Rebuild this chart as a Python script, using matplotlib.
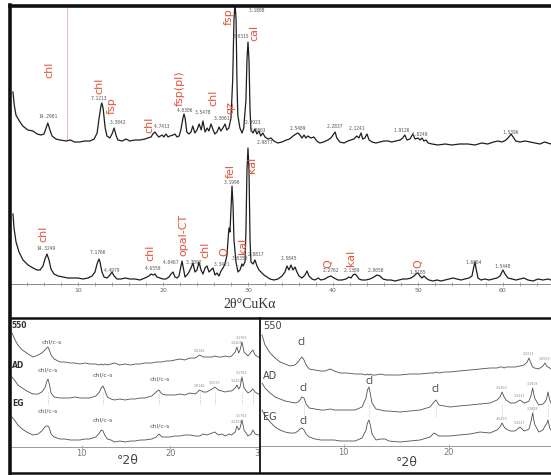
import numpy as np
import matplotlib.pyplot as plt
from matplotlib.ticker import MultipleLocator

# ---- top panel: bulk XRD patterns, 2theta (deg, CuKa) vs intensity (arb.)
up_tt = [2.35, 2.5, 2.7, 3.1, 3.5, 4.1, 4.7, 5.2, 5.65, 6.0,
         6.25, 6.45, 6.7, 6.95, 7.4, 7.9, 8.6, 9.1, 9.6, 10.2,
         10.8, 11.4, 11.9, 12.25, 12.45, 12.7, 12.8, 12.95, 13.2, 13.4,
         13.75, 14.0, 14.25, 14.5, 14.7, 15.2, 15.65, 16.1, 16.7, 17.3,
         17.9, 18.2, 18.6, 18.8, 19.05, 19.3, 19.5, 19.9, 20.1, 20.35,
         20.6, 20.8, 21.2, 21.4, 21.65, 21.9, 22.1, 22.35, 22.47, 22.6,
         22.8, 23.05, 23.3, 23.5, 23.75, 24.0, 24.25, 24.5, 24.7, 24.95,
         25.2, 25.4, 25.65, 25.9, 26.1, 26.35, 26.6, 26.8, 27.05, 27.3,
         27.5, 27.75, 28.0, 28.2, 28.35, 28.47, 28.6, 28.7, 28.8, 29.05,
         29.3, 29.5, 29.76, 29.88, 30.0, 30.12, 30.24, 30.35, 30.6, 30.8,
         31.05, 31.3, 31.5, 31.75, 32.0, 32.35, 32.7, 33.05, 33.5, 34.0,
         34.5, 34.9, 35.3, 35.65, 35.9, 36.1, 36.35, 36.6, 36.8, 37.05,
         37.4, 37.75, 38.1, 38.45, 38.9, 39.4, 39.75, 40.0, 40.25, 40.45,
         40.8, 41.3, 41.75, 42.1, 42.45, 42.8, 43.05, 43.3, 43.5, 43.75,
         44.0, 44.25, 44.6, 45.05, 45.5, 46.0, 46.5, 46.9, 47.4, 47.9,
         48.2, 48.45, 48.7, 49.05, 49.4, 49.65, 50.0, 50.24, 50.47, 50.7,
         50.94, 51.2, 51.65, 52.35, 53.2, 54.0, 54.9, 55.9, 56.7, 57.5,
         58.2, 58.9, 59.4, 59.9, 60.35, 60.7, 60.94, 61.2, 61.5, 62.0,
         62.6, 63.2, 63.8, 64.35, 64.9, 65.65]
up_int = [55, 42, 32, 26, 21, 17, 16, 13, 12, 13,
          19, 24, 17, 11, 8, 7, 6, 7, 5, 5,
          6, 6, 8, 14, 27, 41, 44, 39, 19, 11,
          9, 13, 19, 11, 7, 6, 8, 6, 7, 7,
          8, 9, 10, 13, 15, 12, 10, 12, 10, 13,
          10, 11, 12, 13, 10, 11, 17, 29, 33, 29,
          15, 13, 15, 21, 14, 17, 23, 17, 26, 15,
          19, 16, 23, 17, 13, 15, 20, 16, 19, 23,
          17, 19, 29, 67, 127, 144, 127, 67, 32, 19,
          14, 19, 47, 87, 105, 87, 37, 17, 14, 18,
          13, 16, 11, 14, 10, 8, 9, 6, 4, 5,
          7, 8, 11, 13, 14, 12, 9, 12, 9, 11,
          9, 10, 6, 4, 5, 7, 9, 12, 15, 9,
          5, 4, 6, 7, 8, 11, 9, 14, 8, 9,
          13, 7, 5, 4, 5, 6, 6, 5, 6, 7,
          9, 12, 7, 8, 13, 8, 9, 7, 9, 6,
          7, 4, 3, 2, 3, 2, 3, 3, 2, 4,
          3, 5, 6, 5, 7, 10, 13, 10, 6, 5,
          6, 5, 4, 3, 5, 3]

lo_tt = [2.35, 2.47, 2.71, 3.06, 3.53, 4.12, 4.71, 5.18, 5.53, 5.88,
         6.12, 6.35, 6.59, 6.82, 7.18, 7.65, 8.24, 8.82, 9.41, 10.0,
         10.59, 11.18, 11.65, 12.0, 12.24, 12.47, 12.59, 12.82, 13.06, 13.41,
         13.76, 14.0, 14.24, 14.59, 15.06, 15.53, 16.12, 16.71, 17.29, 17.88,
         18.35, 18.59, 18.82, 19.06, 19.29, 19.65, 20.0, 20.35, 20.71, 20.94,
         21.18, 21.41, 21.65, 21.88, 22.12, 22.24, 22.35, 22.59, 22.82, 23.06,
         23.29, 23.53, 23.76, 24.0, 24.24, 24.47, 24.71, 24.94, 25.18, 25.41,
         25.65, 25.88, 26.12, 26.35, 26.59, 26.82, 27.06, 27.29, 27.53, 27.65,
         27.76, 27.88, 28.0, 28.12, 28.24, 28.35, 28.59, 28.82, 29.06, 29.29,
         29.41, 29.65, 29.76, 29.88, 30.0, 30.12, 30.24, 30.35, 30.59, 30.82,
         31.06, 31.29, 31.53, 31.88, 32.24, 32.59, 33.06, 33.53, 34.0, 34.35,
         34.59, 34.82, 35.06, 35.29, 35.53, 35.76, 36.0, 36.35, 36.71, 36.94,
         37.18, 37.53, 37.88, 38.24, 38.59, 39.06, 39.41, 39.76, 40.12, 40.59,
         41.06, 41.53, 41.88, 42.12, 42.35, 42.59, 42.82, 43.06, 43.41, 43.88,
         44.35, 44.82, 45.18, 45.53, 45.88, 46.35, 46.82, 47.29, 47.76, 48.24,
         48.71, 49.18, 49.53, 49.76, 50.0, 50.24, 50.47, 50.71, 50.94, 51.29,
         51.76, 52.24, 52.71, 53.18, 53.65, 54.12, 54.59, 55.06, 55.53, 56.0,
         56.35, 56.59, 56.71, 56.82, 57.06, 57.41, 57.88, 58.35, 58.82, 59.29,
         59.65, 59.88, 60.0, 60.24, 60.59, 61.06, 61.53, 62.0, 62.47, 62.94,
         63.53, 64.12, 64.71, 65.29, 65.65]
lo_int = [70, 56, 42, 32, 24, 19, 16, 14, 14, 18,
          25, 30, 24, 15, 10, 8, 7, 6, 6, 6,
          5, 6, 8, 12, 20, 25, 22, 12, 7, 6,
          9, 12, 8, 5, 5, 6, 5, 5, 4, 6,
          8, 10, 9, 10, 7, 6, 5, 5, 7, 10,
          12, 7, 6, 8, 18, 23, 18, 7, 9, 12,
          16, 21, 12, 14, 22, 14, 10, 16, 18, 12,
          14, 16, 9, 11, 8, 13, 16, 20, 29, 44,
          56, 52, 74, 98, 79, 44, 22, 12, 14, 20,
          18, 22, 54, 114, 136, 114, 44, 22, 20, 24,
          18, 14, 12, 9, 7, 5, 4, 5, 8, 12,
          18, 14, 19, 14, 17, 12, 8, 6, 9, 13,
          8, 5, 4, 6, 4, 5, 7, 8, 6, 4,
          4, 5, 7, 6, 9, 10, 8, 5, 4, 4,
          5, 7, 9, 8, 5, 4, 4, 3, 4, 5,
          5, 6, 8, 10, 11, 8, 6, 8, 6, 4,
          3, 4, 3, 4, 5, 6, 5, 4, 5, 6,
          8, 18, 22, 16, 6, 4, 5, 4, 5, 6,
          8, 12, 14, 10, 6, 5, 4, 5, 6, 4,
          3, 5, 4, 5, 4]
up_shift = 137

top_minerals = [('chl', 6.6, 214), ('chl', 12.5, 198), ('fsp', 14.0, 178),
                ('chl', 18.35, 159), ('fsp(pl)', 22.0, 196), ('chl', 25.9, 186),
                ('qz', 27.9, 177), ('fsp', 27.75, 267), ('cal', 30.8, 251),
                ('chl', 5.9, 50), ('chl', 18.5, 31), ('opal-CT', 22.35, 49),
                ('chl', 24.95, 34), ('Q', 27.25, 32), ('fel', 28.0, 113),
                ('kal', 29.4, 38), ('kal', 30.5, 119), ('Q', 39.5, 20),
                ('kal', 42.1, 26), ('Q', 50.0, 20)]
top_d = [('14.2901', 6.47, 167), ('7.1213', 12.47, 186), ('3.3842', 14.7, 161),
         ('4.7413', 19.9, 157), ('4.0306', 22.6, 173), ('3.5478', 24.7, 171),
         ('3.3061', 26.9, 166), ('3.1808', 31.06, 273), ('3.0315', 29.2, 247),
         ('2.9923', 30.6, 161), ('2.8803', 31.2, 154), ('2.5489', 35.9, 156),
         ('2.2837', 40.2, 157), ('2.1241', 42.8, 156), ('1.9126', 48.1, 154),
         ('1.8249', 50.2, 149), ('1.5396', 60.9, 152), ('2.9877', 32.0, 141),
         ('14.3249', 6.24, 36), ('7.1766', 12.35, 31), ('4.4979', 14.0, 14),
         ('4.6550', 18.8, 16), ('4.0467', 21.0, 22), ('3.7092', 23.6, 22),
         ('3.3421', 26.9, 20), ('3.1990', 28.1, 101), ('3.0359', 29.06, 25),
         ('2.8817', 30.94, 30), ('2.5845', 34.8, 25), ('2.2762', 39.8, 14),
         ('2.1389', 42.2, 13), ('2.0058', 45.06, 14), ('1.8185', 50.0, 12),
         ('1.6864', 56.5, 22), ('1.5448', 60.0, 18)]

# ---- bottom left: oriented clay fraction (550, AD, EG)
bl_tt = [2.14, 2.5, 2.8, 3.3, 3.8, 4.5, 5.1, 5.5, 5.85, 6.05,
         6.2, 6.35, 6.55, 6.9, 7.55, 8.1, 8.7, 9.2, 9.8, 10.4,
         10.9, 11.6, 12.0, 12.2, 12.4, 12.6, 12.9, 13.3, 13.7, 14.3,
         14.9, 15.5, 16.0, 16.6, 17.1, 17.9, 18.4, 18.7, 19.05, 19.5,
         19.95, 20.5, 21.1, 21.6, 22.2, 22.8, 23.3, 23.7, 24.1, 24.7,
         25.0, 25.4, 25.8, 26.2, 26.6, 26.9, 27.3, 27.5, 27.7, 27.85,
         28.07, 28.3, 28.75, 29.1, 29.3, 29.55, 29.9, 30.1]
bl_550 = [32, 25, 20, 15, 12, 8, 10, 12, 15, 17,
          18, 15, 10, 6, 3, 3, 2, 2, 1, 2,
          1, 1, 0, 1, 0, 1, 0, 1, 2, 0,
          1, 0, 1, 1, 2, 2, 3, 3, 3, 4,
          4, 5, 6, 5, 7, 7, 10, 8, 8, 8,
          9, 8, 8, 9, 8, 9, 13, 18, 12, 15,
          23, 13, 9, 13, 15, 10, 8, 7]
bl_ad = [23, 19, 15, 12, 9, 6, 6, 8, 12, 18,
         21, 16, 7, 3, 2, 2, 2, 3, 2, 2,
         2, 4, 8, 12, 14, 10, 3, 1, 0, 1,
         0, 1, 1, 2, 2, 4, 8, 10, 6, 5,
         5, 5, 6, 5, 7, 6, 10, 8, 8, 11,
         13, 10, 9, 8, 9, 9, 12, 15, 11, 13,
         23, 12, 7, 9, 11, 8, 6, 6]
bl_eg = [25, 21, 17, 13, 10, 7, 8, 11, 15, 16,
         16, 14, 8, 5, 3, 3, 2, 2, 2, 3,
         3, 5, 9, 12, 11, 7, 3, 2, 0, 1,
         0, 1, 1, 2, 2, 3, 5, 8, 5, 5,
         5, 6, 6, 7, 7, 6, 6, 8, 7, 9,
         10, 7, 8, 6, 8, 7, 10, 16, 12, 14,
         22, 12, 6, 8, 12, 8, 7, 7]
bl_shift = [82, 47, 5]
bl_peaks = [6.2, 12.4, 18.7, 23.3, 25.0, 28.07, 29.3]

# ---- bottom right
br_tt = [2.19, 2.48, 2.96, 3.44, 3.91, 4.39, 4.87, 5.34, 5.63, 5.82,
         6.0, 6.2, 6.4, 6.7, 7.25, 7.8, 8.2, 8.7, 9.1, 9.64,
         10.3, 11.07, 11.74, 12.12, 12.25, 12.4, 12.55, 12.69, 13.07, 13.5,
         13.93, 14.3, 15.36, 16.3, 17.27, 18.23, 18.6, 18.8, 19.08, 19.6,
         20.13, 21.0, 22.04, 23.0, 23.95, 24.62, 24.9, 25.1, 25.3, 25.48,
         25.9, 26.34, 26.81, 27.2, 27.5, 27.67, 27.85, 28.02, 28.2, 28.6,
         29.0, 29.2, 29.35, 29.48, 29.65, 29.77]
br_550 = [40, 30, 22, 17, 13, 11, 9, 10, 13, 16,
          18, 15, 10, 6, 5, 4, 4, 6, 4, 2,
          2, 1, 1, 0, 1, 0, 1, 0, 0, 1,
          0, 0, 0, 1, 1, 2, 2, 3, 2, 3,
          3, 4, 5, 6, 7, 7, 8, 8, 7, 8,
          8, 8, 9, 10, 13, 17, 12, 8, 7, 6,
          9, 12, 9, 8, 7, 6]
br_ad = [29, 24, 19, 15, 13, 11, 10, 9, 10, 12,
         15, 14, 8, 4, 3, 2, 2, 3, 2, 2,
         2, 2, 5, 14, 22, 25, 17, 9, 3, 2,
         1, 1, 0, 1, 2, 5, 10, 12, 7, 6,
         5, 6, 7, 8, 9, 12, 15, 20, 15, 12,
         9, 9, 12, 9, 10, 11, 16, 24, 14, 7,
         8, 10, 13, 20, 12, 9]
br_eg = [32, 26, 20, 15, 12, 10, 9, 9, 11, 13,
         14, 12, 8, 5, 3, 2, 2, 2, 2, 1,
         1, 1, 4, 12, 19, 22, 16, 8, 2, 3,
         3, 1, 0, 1, 2, 5, 9, 8, 6, 6,
         6, 7, 8, 10, 9, 12, 15, 19, 15, 13,
         11, 11, 15, 11, 12, 13, 20, 29, 18, 10,
         12, 16, 18, 22, 14, 12]
br_shift = [71, 34, 4]
br_peaks = [6.2, 12.4, 18.8, 25.1, 28.02, 29.48]

red = '#e2533a'
W, H = 551.0, 475.0
fig = plt.figure(figsize=(W / 100, H / 100), dpi=100)

# top panel
ax = fig.add_axes([10 / W, 157 / H, 541 / W, 312 / H])
ax.set_xlim(2.0, 65.65)
ax.set_ylim(-34, 278)
ax.plot([8.7, 8.7], [144, 277], color='#efbcbc', lw=0.8)
ax.plot(lo_tt, lo_int, color='#1e1e1e', lw=0.9)
ax.plot(up_tt, np.array(up_int) + up_shift, color='#1e1e1e', lw=0.9)
for s in ['top', 'right', 'left']:
    ax.spines[s].set_visible(False)
ax.spines['bottom'].set_position(('data', 0))
ax.spines['bottom'].set_color('#8a8a8a')
ax.spines['bottom'].set_linewidth(0.7)
ax.set_yticks([])
ax.xaxis.set_major_locator(MultipleLocator(10))
ax.xaxis.set_minor_locator(MultipleLocator(2))
ax.tick_params(axis='x', which='both', direction='inout', length=2.5, width=0.5,
               color='#8a8a8a', labelsize=4.5, labelcolor='#666666', pad=1.5)
ax.set_xticks([10, 20, 30, 40, 50, 60])
for name, x, y in top_minerals:
    ax.text(x, y, name, rotation=90, ha='center', va='center', fontsize=8, color=red)
for name, x, y in top_d:
    ax.text(x, y, name, ha='center', va='center', fontsize=3.3, color='#555555',
            family='DejaVu Sans Mono')
ax.text(30.2, -20, '2θ°CuKα', ha='center', va='center', fontsize=10,
        family=['Liberation Serif', 'DejaVu Serif'], color='#333333')


def clay_axes(rect, xlim, ylim, tt, traces, shifts, peaks, ticks):
    a = fig.add_axes(rect)
    a.set_xlim(*xlim)
    a.set_ylim(*ylim)
    for tr, sh in zip(traces, shifts):
        a.plot(tt, np.array(tr) + sh, color='#505050', lw=0.6)
    a.vlines(peaks, shifts[1] - 4, shifts[1] + 8, color='#e88a8a', lw=0.5, linestyles=':')
    for s in ['top', 'right', 'left']:
        a.spines[s].set_visible(False)
    a.spines['bottom'].set_position(('data', 0))
    a.spines['bottom'].set_color('#9a9a9a')
    a.spines['bottom'].set_linewidth(0.7)
    a.set_yticks([])
    a.set_xticks(ticks)
    a.tick_params(axis='x', direction='inout', length=2.5, width=0.5, color='#9a9a9a',
                  labelsize=6, labelcolor='#777777', pad=0.5)
    # tiny d-spacing tags (Bragg, CuKa) over the clear unlabelled peaks
    for tr, sh in zip(traces, shifts):
        for i in range(1, len(tt) - 1):
            if tr[i] > tr[i - 1] + 1 and tr[i] > tr[i + 1] + 1 and tr[i] >= 8 \
                    and 20 < tt[i] < 29.3:
                d = 1.5406 / (2 * np.sin(np.radians(tt[i] / 2)))
                a.text(tt[i], tr[i] + sh + 4, f'{d:.4f}', ha='center', va='center',
                       fontsize=2.3, color='#888888')
    return a


bl = clay_axes([10 / W, 2 / H, 250 / W, 155 / H], (1.92, 30.1), (-26, 129), bl_tt,
               [bl_550, bl_ad, bl_eg], bl_shift, bl_peaks, [10, 20, 30])
for nm, y in [('550', 122), ('AD', 82), ('EG', 43)]:
    bl.text(2.14, y, nm, ha='left', va='center', fontsize=5.5, fontweight='bold',
            color='#333333')
for x, y in [(6.65, 105), (6.2, 77), (12.4, 72), (18.8, 68), (6.2, 36), (12.4, 27), (18.8, 21)]:
    bl.text(x, y, 'chl/c-s', ha='center', va='center', fontsize=4.5, color='#555555')
bl.text(15.2, -14, '°2θ', ha='center', va='center', fontsize=9, color='#444444')

br = clay_axes([260 / W, 2 / H, 291 / W, 155 / H], (2.0, 29.77), (-27, 128), br_tt,
               [br_550, br_ad, br_eg], br_shift, br_peaks, [10, 20])
for nm, y in [('550', 120), ('AD', 70), ('EG', 29)]:
    br.text(2.3, y, nm, ha='left', va='center', fontsize=7, color='#444444')
for x, y in [(6.0, 104), (6.2, 58), (12.5, 65), (18.8, 57), (6.2, 25)]:
    br.text(x, y, 'cl', ha='center', va='center', fontsize=7, color='#444444')
br.text(16.0, -16, '°2θ', ha='center', va='center', fontsize=9, color='#444444')

# frame lines
fr = fig.add_axes([0, 0, 1, 1])
fr.set_xlim(0, W)
fr.set_ylim(H, 0)
fr.axis('off')
fr.plot([10, W], [6, 6], color='#111111', lw=2.6)
fr.plot([10, 10], [5, 474], color='#111111', lw=2.6)
fr.plot([10, W], [318, 318], color='#111111', lw=1.8)
fr.plot([10, W], [473, 473], color='#111111', lw=1.8)
fr.plot([260, 260], [318, 473], color='#111111', lw=1.3)

fig.savefig('out.png', dpi=100)
